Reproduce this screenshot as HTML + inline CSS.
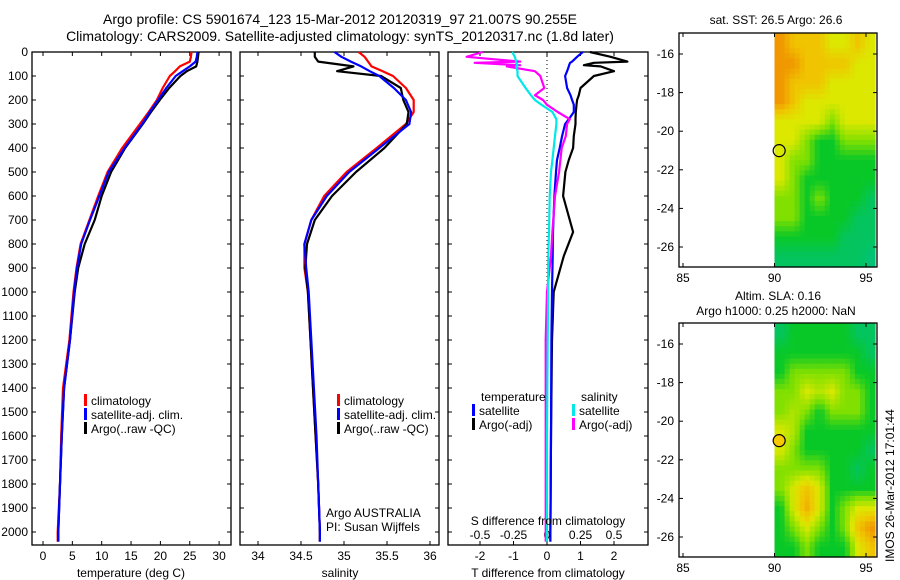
<!DOCTYPE html>
<html><head><meta charset="utf-8"><style>
body{margin:0;background:#fff;}
svg{display:block;font-family:"Liberation Sans",sans-serif;}
text{fill:#000;}
</style></head><body>
<svg id="fig" width="900" height="580" viewBox="0 0 900 580">
<text x="340" y="24" font-size="14" text-anchor="middle">Argo profile: CS 5901674_123 15-Mar-2012 20120319_97 21.007S 90.255E</text>
<text x="340" y="41" font-size="14" text-anchor="middle">Climatology: CARS2009. Satellite-adjusted climatology: synTS_20120317.nc (1.8d later)</text>
<text x="776" y="24" font-size="12" text-anchor="middle">sat. SST: 26.5 Argo: 26.6</text>
<text x="778" y="300" font-size="12" text-anchor="middle">Altim. SLA: 0.16</text>
<text x="776" y="315" font-size="12" text-anchor="middle">Argo h1000: 0.25 h2000: NaN</text>
<text transform="translate(894,562) rotate(-90)" font-size="12">IMOS 26-Mar-2012 17:01:44</text>
</svg>
<script>
// ---- data ----
const depths = [0,20,40,60,80,100,150,200,250,300,400,500,600,700,800,900,1000,1200,1400,1600,1800,2000,2040];
const tempClim = [25.3,25.2,25.0,23.3,22.5,21.6,20.4,19.4,18.0,16.5,13.5,11.0,9.4,7.9,6.4,5.7,5.2,4.5,3.4,3.1,2.9,2.5,2.5];
const tempSat  = [26.3,26.2,26.0,25.0,23.8,22.6,21.0,19.6,18.2,16.9,13.9,11.2,9.6,8.0,6.5,5.8,5.3,4.6,3.6,3.2,2.9,2.6,2.6];
const tempArgo = [26.5,26.4,26.3,26.1,24.5,23.4,21.5,19.9,18.4,17.0,14.0,11.6,10.0,8.8,7.1,6.0,5.4,4.6,3.6,3.2,2.9,2.6,2.6];
const salClim = [35.17,35.24,35.28,35.32,35.45,35.57,35.72,35.81,35.81,35.72,35.38,35.03,34.77,34.62,34.54,34.54,34.58,34.61,34.64,34.67,34.70,34.72,34.72];
const salSat  = [34.89,34.97,35.08,35.20,35.30,35.41,35.58,35.72,35.78,35.76,35.41,35.06,34.80,34.62,34.54,34.56,34.59,34.62,34.65,34.68,34.70,34.72,34.72];
const salArgo = [34.66,34.66,34.70,35.11,34.92,35.43,35.66,35.69,35.75,35.73,35.47,35.14,34.86,34.66,34.57,34.55,34.58,34.61,34.64,34.67,34.70,34.72,34.72];
const dDepths = [0,20,40,45,55,60,80,100,150,180,200,220,250,280,300,350,400,450,500,600,750,850,1000,1200,1600,2000,2040];
const dTSat  = [1.07,0.9,0.75,0.69,0.66,0.65,0.6,0.54,0.6,0.7,0.75,0.8,0.8,0.65,0.54,0.45,0.38,0.3,0.27,0.22,0.18,0.17,0.15,0.13,0.12,0.1,0.1];
const dTArgo = [1.28,1.9,2.4,1.4,1.1,1.6,2.0,1.4,1.0,0.95,0.9,0.88,0.86,0.85,0.85,0.8,0.78,0.65,0.55,0.48,0.78,0.5,0.2,0.15,0.12,0.1,0.1];
const dSSat  = [-0.26,-0.24,-0.23,-0.23,-0.22,-0.23,-0.22,-0.22,-0.16,-0.12,-0.09,-0.04,0.04,0.07,0.07,0.06,0.05,0.04,0.03,0.02,0.015,0.01,0.008,0.005,0.0,0.0,0.0];
const dSArgo = [-0.48,-0.6,-0.2,-0.54,-0.2,-0.3,-0.09,-0.05,-0.02,-0.09,-0.03,0.0,0.08,0.17,0.15,0.14,0.11,0.1,0.09,0.06,0.04,0.03,0.0,-0.01,-0.01,-0.01,-0.01];
const depthTicks = [0,100,200,300,400,500,600,700,800,900,1000,1100,1200,1300,1400,1500,1600,1700,1800,1900,2000];
const tempTicks = [0,5,10,15,20,25,30];
const salTicks = [34,34.5,35,35.5,36];
const salTickLabels = ["34","34.5","35","35.5","36"];
const dTTicks = [-2,-1,0,1,2];
const dSTicks = [-0.5,-0.25,0,0.25,0.5];
const dSTickLabels = ["-0.5","-0.25","0","0.25","0.5"];
const latTicks = [-16,-18,-20,-22,-24,-26];
const lonTicks = [85,90,95];
const mapLons = [90.0,90.7,91.4,92.1,92.8,93.5,94.2,94.9];
const mapLats = [-15,-16,-17,-18,-19,-20,-21,-22,-23,-24,-25,-26];
const sstGrid = [
[5,4,4,4,3,3,4,3],[5,5,4,4,4,4,3,3],[5,4,4,4,3,3,3,3],[5,4,3,3,3,3,3,3],
[3,3,3,3,2,3,3,3],[3,3,2,1,1,2,2,2],[3,2,2,1,1,1,1,1],[3,2,1,1,1,1,1,1],
[2,2,1,2,1,1,1,0.5],[2,2,1,1,1,1,0.5,0.5],[1,1,1,1,1,0.5,0.5,0.5],[0.5,0.5,0.5,0.5,0.5,0.5,0.5,0.3]];
const slaGrid = [
[0.5,1,1,1,1,1,0.5,0.5],[1,1,1,1,1,1,1,0.5],[1,2,2,2,2,2,1,1],[2,2,3,2.5,3,2,2,1],
[2,2.5,2,1,2,2,2,1],[3,2.5,1,1,1,1,1,1],[3,2,1,1,1,1,1,0.5],[2,2,2,2,1,1,0.5,1],
[2,3,4,3,1,1,1,1],[1,3,4.5,3,1,2,3,3],[1,2,3,2,1,2,4,5],[1,1,2,1,1,1,3,4]];
const argoLon = 90.255, argoLat = -21.007;

// ---- helpers ----
const NS="http://www.w3.org/2000/svg";
const svg=document.getElementById('fig');
function el(tag,attrs,parent){const e=document.createElementNS(NS,tag);for(const k in attrs)e.setAttribute(k,attrs[k]);(parent||svg).appendChild(e);return e;}
function txt(x,y,s,anchor,size,parent){const t=el('text',{x:x,y:y,'font-size':size||12,'text-anchor':anchor||'start'},parent);t.textContent=s;return t;}
const yD = d => 52 + d*0.24;
function frame(x0,y0,x1,y1,name){
  const r=el('rect',{x:x0,y:y0,width:x1-x0,height:y1-y0,fill:'none',stroke:'#000','stroke-width':1.3});
  
  
}
function line(xs,ys,color,w,name){
  let d='';for(let i=0;i<xs.length;i++)d+=(i?'L':'M')+xs[i].toFixed(1)+' '+ys[i].toFixed(1);
  const p=el('path',{d:d,fill:'none',stroke:color,'stroke-width':w||2.2,'stroke-linejoin':'round'});
  
  
}
function legend(x,y,color,label,name){
  const g=el('g',{});
  
  
  el('rect',{x:x,y:y-11,width:3,height:12,fill:color},g);
  if(label)txt(x+7,y,label,'start',12,g);
}
function depthTicksFor(x0,x1,labels){
  depthTicks.forEach(d=>{const y=yD(d);
    el('line',{x1:x0,y1:y,x2:x0+4,y2:y,stroke:'#000'});el('line',{x1:x1,y1:y,x2:x1-4,y2:y,stroke:'#000'});
    if(labels){const t=txt(28,y+4,String(d),'end',12);}
  });
}
function xTicks(vals,labels,fx,y0,y1,ly){
  vals.forEach((v,i)=>{const x=fx(v);
    el('line',{x1:x,y1:y1,x2:x,y2:y1-4,stroke:'#000'});el('line',{x1:x,y1:y0,x2:x,y2:y0+4,stroke:'#000'});
    const t=txt(x,ly,labels[i],'middle',12);
  });
}

// ---- panel 1: temperature ----
const xT = t => 43 + t*5.87;
frame(32,52,231,545,'temperature-panel');
depthTicksFor(32,231,true);
xTicks(tempTicks,tempTicks.map(String),xT,52,545,560);
line(tempClim.map(xT),depths.map(yD),'#ff0000',2.2,'temp-climatology-line');
line(tempArgo.map(xT),depths.map(yD),'#000000',2.2,'temp-argo-line');
line(tempSat.map(xT),depths.map(yD),'#0000ff',2.2,'temp-satellite-line');
(function(){const t=txt(131,577,'temperature (deg C)','middle',12);})();
legend(84,405,'#ff0000','climatology','legend-climatology');
legend(84,419,'#0000ff','satellite-adj. clim.','legend-satellite');
legend(84,433,'#000000','Argo(..raw -QC)','legend-argo');

// ---- panel 2: salinity ----
const xS = s => 258 + (s-34)*86;
frame(240,52,439,545,'salinity-panel');
depthTicksFor(240,439,false);
xTicks(salTicks,salTickLabels,xS,52,545,560);
line(salClim.map(xS),depths.map(yD),'#ff0000',2.2,'sal-climatology-line');
line(salArgo.map(xS),depths.map(yD),'#000000',2.2,'sal-argo-line');
line(salSat.map(xS),depths.map(yD),'#0000ff',2.2,'sal-satellite-line');
(function(){const t=txt(340,577,'salinity','middle',12);})();
legend(337,405,'#ff0000','climatology','legend-climatology-2');
legend(337,419,'#0000ff','satellite-adj. clim.','legend-satellite-2');
legend(337,433,'#000000','Argo(..raw -QC)','legend-argo-2');
txt(326,517,'Argo AUSTRALIA','start',12);
txt(326,531,'PI: Susan Wijffels','start',12);

// ---- panel 3: differences ----
const xDT = v => 547 + v*33.5;
const xDS = v => 547 + v*134;
frame(448,52,648,545,'difference-panel');
depthTicksFor(448,648,false);
el('line',{x1:xDT(0),y1:52,x2:xDT(0),y2:545,stroke:'#000','stroke-dasharray':'1 3'});
xTicks(dTTicks,dTTicks.map(String),xDT,52,545,560);
dSTicks.forEach((v,i)=>{const t=txt(xDS(v),539,dSTickLabels[i],'middle',12);});
line(dTArgo.map(xDT),dDepths.map(yD),'#000000',2.2,'tdiff-argo-line');
line(dTSat.map(xDT),dDepths.map(yD),'#0000ff',2.2,'tdiff-satellite-line');
line(dSArgo.map(xDS),dDepths.map(yD),'#ff00ff',2.2,'sdiff-argo-line');
line(dSSat.map(xDS),dDepths.map(yD),'#00e8e8',2.2,'sdiff-satellite-line');
txt(548,525,'S difference from climatology','middle',12);
txt(548,577,'T difference from climatology','middle',12);
txt(481,401,'temperature','start',12);
txt(581,401,'salinity','start',12);
legend(472,415,'#0000ff','satellite','legend-tdiff-satellite');
legend(472,429,'#000000','Argo(-adj)','legend-tdiff-argo');
legend(572,415,'#00e8e8','satellite','legend-sdiff-satellite');
legend(572,429,'#ff00ff','Argo(-adj)','legend-sdiff-argo');

// ---- maps ----
const stops=[[0,[0,192,150]],[1,[8,200,40]],[2,[130,224,0]],[3,[220,232,0]],[4,[240,196,0]],[5,[240,150,0]]];
function cmap(v){for(let i=0;i<stops.length-1;i++){const a=stops[i],b=stops[i+1];if(v<=b[0]){const f=Math.max(0,(v-a[0])/(b[0]-a[0]));return 'rgb('+a[1].map((c,k)=>Math.round(c+(b[1][k]-c)*f)).join(',')+')';}}return 'rgb(240,150,0)';}
function sample(grid,r,c){ // bilinear on cell centers
  const R=grid.length,C=grid[0].length;
  r=Math.min(R-1,Math.max(0,r));c=Math.min(C-1,Math.max(0,c));
  const r0=Math.floor(r),c0=Math.floor(c),r1=Math.min(R-1,r0+1),c1=Math.min(C-1,c0+1),fr=r-r0,fc=c-c0;
  return (grid[r0][c0]*(1-fc)+grid[r0][c1]*fc)*(1-fr)+(grid[r1][c0]*(1-fc)+grid[r1][c1]*fc)*fr;
}
function drawMap(top,grid,dotFill,name,cellName){
  const bot=top+234;
  const lonX = lon => 683 + (lon-85)*18.3;
  const latY = lat => top+21 + (-16-lat)*19.3;
  const g=el('g',{});
  
  
  const x0=lonX(mapLons[0]), x1=875, nx=20, ny=46;
  const dLon=mapLons[1]-mapLons[0];
  for(let j=0;j<ny;j++)for(let i=0;i<nx;i++){
    const cx=x0+(i+0.5)*(x1-x0)/nx, cy=top+(j+0.5)*234/ny;
    const lon=85+(cx-683)/18.3, lat=-16-(cy-top-21)/19.3;
    const c=(lon-mapLons[0])/dLon-0.5, r=(mapLats[0]-lat)-0.5;
    const rc=el('rect',{x:x0+i*(x1-x0)/nx,y:top+j*234/ny,width:(x1-x0)/nx+0.6,height:234/ny+0.6,fill:cmap(sample(grid,r,c))},g);
    
    
  }
  el('rect',{x:679,y:top,width:198,height:234,fill:'none',stroke:'#000','stroke-width':1.3},g);
  latTicks.forEach(l=>{const y=latY(l);el('line',{x1:679,y1:y,x2:683,y2:y,stroke:'#000'},g);el('line',{x1:877,y1:y,x2:873,y2:y,stroke:'#000'},g);txt(674,y+4,String(l),'end',12,g);});
  lonTicks.forEach(l=>{const x=lonX(l);el('line',{x1:x,y1:bot,x2:x,y2:bot-4,stroke:'#000'},g);el('line',{x1:x,y1:top,x2:x,y2:top+4,stroke:'#000'},g);txt(x,bot+15,String(l),'middle',12,g);});
  const c=el('circle',{cx:lonX(argoLon),cy:latY(argoLat),r:6,fill:dotFill,stroke:'#000','stroke-width':1.2},g);
  
  
}
drawMap(33,sstGrid,'none','sst-map','sst-cell');
drawMap(323,slaGrid,'#f8c800','sla-map','sla-cell');
</script>
</body></html>
